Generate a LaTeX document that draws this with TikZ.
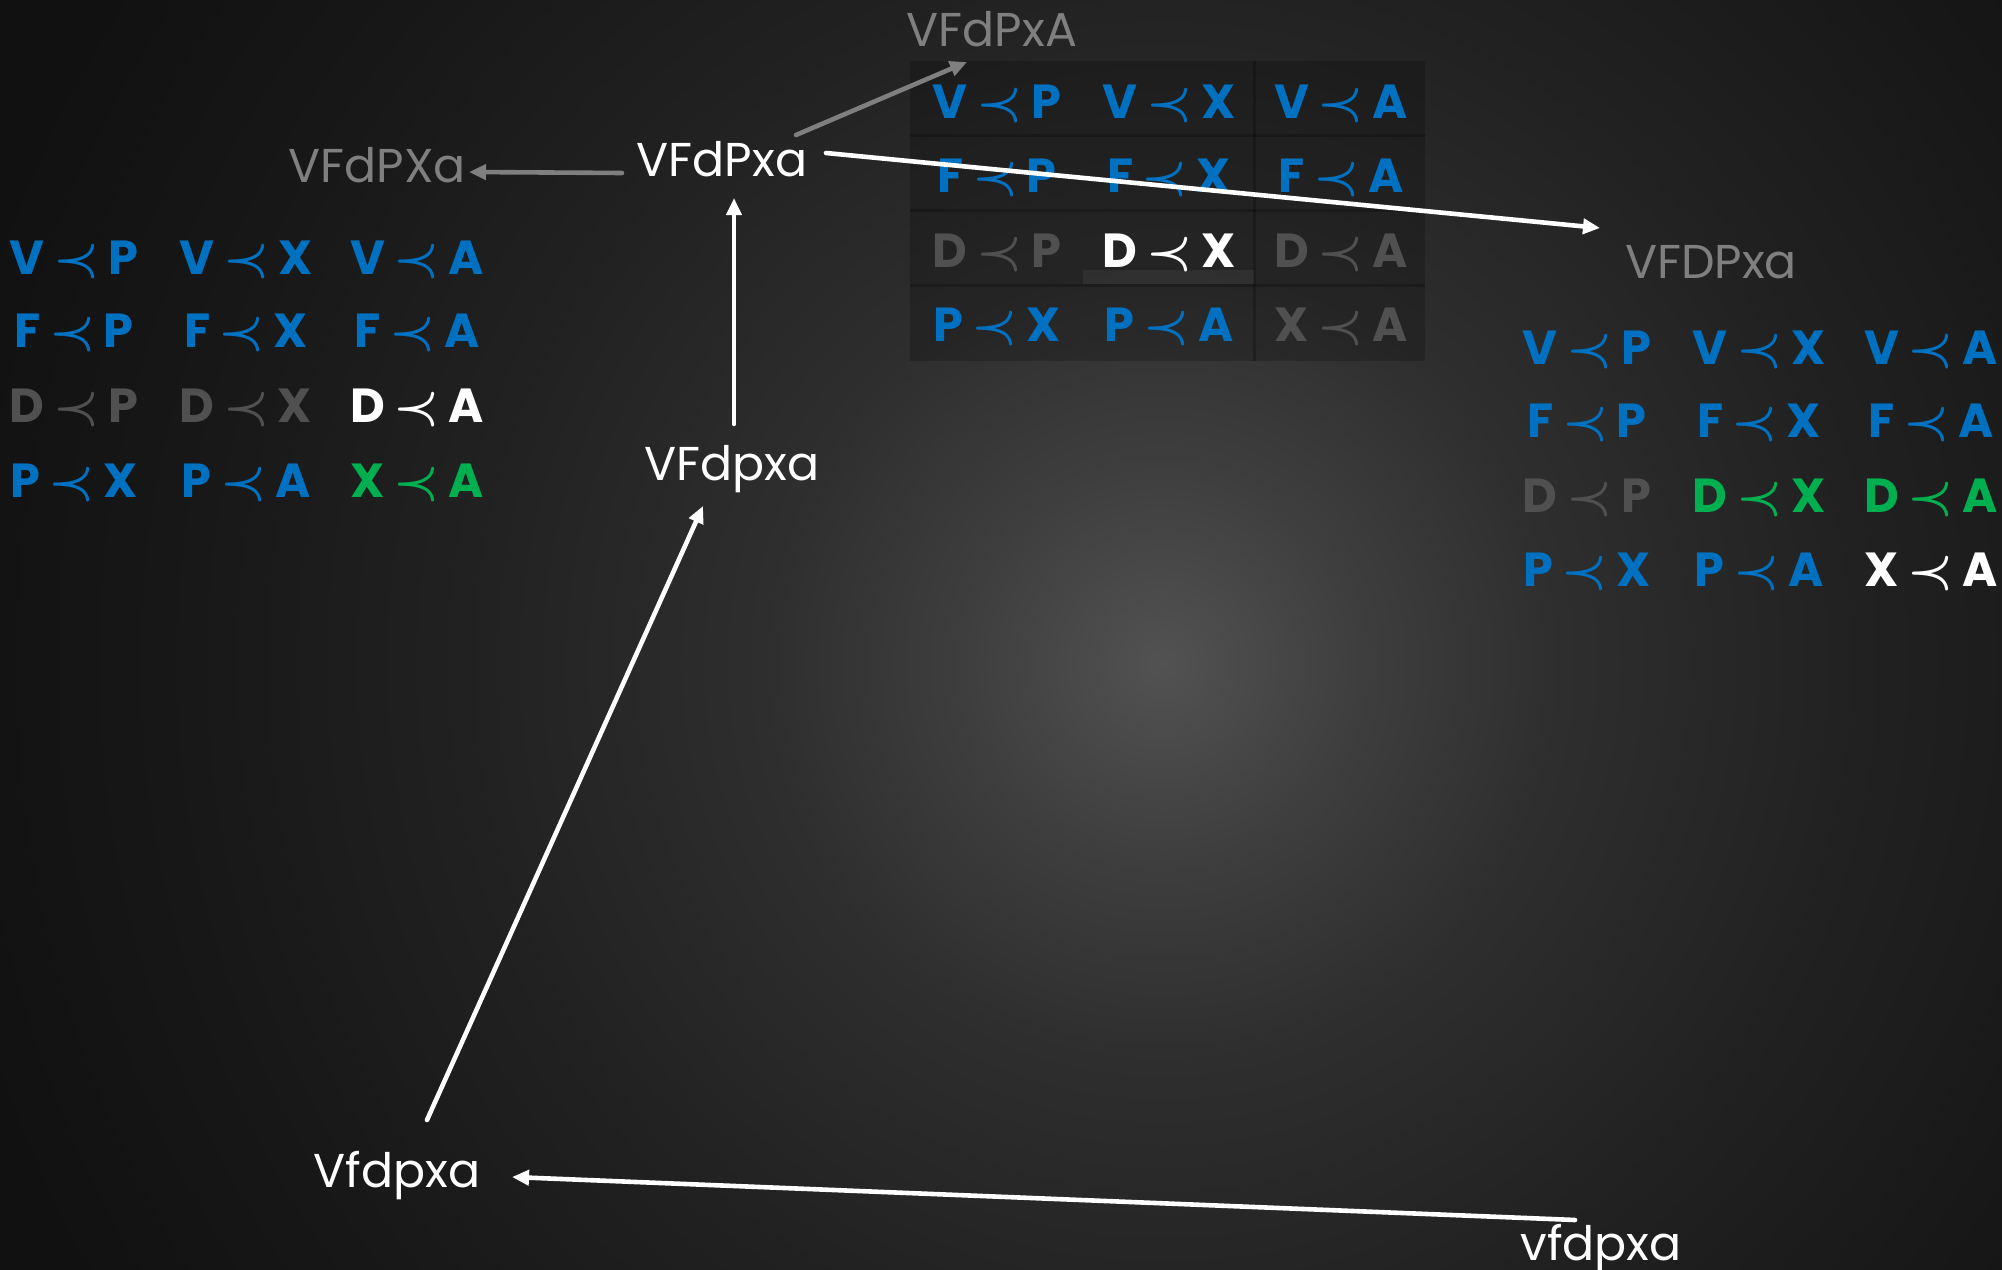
\documentclass[tikz,border=0pt]{standalone}
\usepackage{fontspec}
\usepackage{graphicx}
\setmainfont{Poppins}
\usetikzlibrary{arrows.meta}
\definecolor{bgA}{HTML}{525252}
\definecolor{bgB}{HTML}{3E3E3E}
\definecolor{bgC}{HTML}{2E2E2E}
\definecolor{bgD}{HTML}{212121}
\definecolor{bgE}{HTML}{171717}
\definecolor{bgF}{HTML}{111111}
\definecolor{cblue}{HTML}{0070C0}
\definecolor{cgreen}{HTML}{00B050}
\definecolor{cdim}{HTML}{505050}
\definecolor{cgray}{HTML}{7F7F7F}
\pgfdeclareradialshading{bgshade}{\pgfpoint{0bp}{0bp}}{color(0bp)=(bgA); color(4bp)=(bgB); color(8bp)=(bgC); color(14bp)=(bgD); color(20bp)=(bgE); color(25bp)=(bgF); color(50bp)=(bgF)}
\newcommand\rl[2]{#1\hspace{0.18em}\scalebox{1.02}{\boldmath$\prec$}\hspace{0.18em}#2}
\begin{document}
\begin{tikzpicture}[x=0.01cm,y=-0.01cm,
  rel/.style={anchor=base,inner sep=0pt,font=\fontsize{13.6}{16}\selectfont\bfseries},
  lab/.style={anchor=base,inner sep=0pt,font=\fontsize{13.5}{16}\selectfont},
  sep/.style={draw=black,opacity=0.22,line width=0.03cm},
  warr/.style={draw=white,line width=0.046cm,line cap=round,-{Triangle[length=0.17cm,width=0.15cm]}},
  garr/.style={draw=cgray,line width=0.046cm,line cap=round,-{Triangle[length=0.17cm,width=0.15cm]}}]
\useasboundingbox (0,0) rectangle (2002,1270);
\fill[bgF] (0,0) rectangle (2002,1270);
\begin{scope}
\clip (0,0) rectangle (2002,1270);
\shade[shading=bgshade] (1162,664) circle[radius=12.5cm];
\end{scope}
% middle table background
\fill[black,opacity=0.2] (910,61) rectangle (1425,361);
\draw[sep] (910,136) -- (1425,136);
\draw[sep] (910,211) -- (1425,211);
\draw[sep] (910,286) -- (1425,286);
\draw[sep] (1254,61) -- (1254,361);
\fill[white,opacity=0.05] (1083,270) rectangle (1254,284);
% labels
\node[lab,text=cgray] (nA) at (992,47) {VFdPxA};
\node[lab,text=cgray] (nL) at (377,183) {VFdPXa};
\node[lab,text=white] (nM) at (722,177) {VFdPxa};
\node[lab,text=white] (nV) at (732,481) {VFdpxa};
\node[lab,text=cgray] (nR) at (1711,279) {VFDPxa};
\node[lab,text=white] (nB) at (397,1187) {Vfdpxa};
\node[lab,text=white] (nb) at (1601,1260) {vfdpxa};
% left table
\node[rel,text=cblue] (l11) at (74,275) {\rl{V}{P}};
\node[rel,text=cblue] (l12) at (246,275) {\rl{V}{X}};
\node[rel,text=cblue] (l13) at (417,275) {\rl{V}{A}};
\node[rel,text=cblue] (l21) at (74,348) {\rl{F}{P}};
\node[rel,text=cblue] (l22) at (246,348) {\rl{F}{X}};
\node[rel,text=cblue] (l23) at (417,348) {\rl{F}{A}};
\node[rel,text=cdim] (l31) at (74,423) {\rl{D}{P}};
\node[rel,text=cdim] (l32) at (246,423) {\rl{D}{X}};
\node[rel,text=white] (l33) at (417,423) {\rl{D}{A}};
\node[rel,text=cblue] (l41) at (74,498) {\rl{P}{X}};
\node[rel,text=cblue] (l42) at (246,498) {\rl{P}{A}};
\node[rel,text=cgreen] (l43) at (417,498) {\rl{X}{A}};
% middle table
\node[rel,text=cblue] (m11) at (997,119) {\rl{V}{P}};
\node[rel,text=cblue] (m12) at (1169,119) {\rl{V}{X}};
\node[rel,text=cblue] (m13) at (1341,119) {\rl{V}{A}};
\node[rel,text=cblue] (m21) at (997,193) {\rl{F}{P}};
\node[rel,text=cblue] (m22) at (1169,193) {\rl{F}{X}};
\node[rel,text=cblue] (m23) at (1341,193) {\rl{F}{A}};
\node[rel,text=cdim] (m31) at (997,268) {\rl{D}{P}};
\node[rel,text=white] (m32) at (1169,268) {\rl{D}{X}};
\node[rel,text=cdim] (m33) at (1341,268) {\rl{D}{A}};
\node[rel,text=cblue] (m41) at (997,342) {\rl{P}{X}};
\node[rel,text=cblue] (m42) at (1169,342) {\rl{P}{A}};
\node[rel,text=cdim] (m43) at (1341,342) {\rl{X}{A}};
% right table
\node[rel,text=cblue] (r11) at (1587,365) {\rl{V}{P}};
\node[rel,text=cblue] (r12) at (1759,365) {\rl{V}{X}};
\node[rel,text=cblue] (r13) at (1931,365) {\rl{V}{A}};
\node[rel,text=cblue] (r21) at (1587,438) {\rl{F}{P}};
\node[rel,text=cblue] (r22) at (1759,438) {\rl{F}{X}};
\node[rel,text=cblue] (r23) at (1931,438) {\rl{F}{A}};
\node[rel,text=cdim] (r31) at (1587,513) {\rl{D}{P}};
\node[rel,text=cgreen] (r32) at (1759,513) {\rl{D}{X}};
\node[rel,text=cgreen] (r33) at (1931,513) {\rl{D}{A}};
\node[rel,text=cblue] (r41) at (1587,587) {\rl{P}{X}};
\node[rel,text=cblue] (r42) at (1759,587) {\rl{P}{A}};
\node[rel,text=white] (r43) at (1931,587) {\rl{X}{A}};
% arrows
\draw[garr] ([shift={(-100,-4)}]nM.base) -- ([shift={(92,-11)}]nL.base);
\draw[garr] ([shift={(74,-42)}]nM.base) -- ([shift={(-25,15)}]nA.base);
\draw[warr] ([shift={(104,-24)}]nM.base) -- ([shift={(-111,-51)}]nR.base);
\draw[warr] ([shift={(2,-57)}]nV.base) -- ([shift={(12,21)}]nM.base);
\draw[warr] ([shift={(30,-67)}]nB.base) -- ([shift={(-29,25)}]nV.base);
\draw[warr] ([shift={(-26,-40)}]nb.base) -- ([shift={(115,-10)}]nB.base);
\end{tikzpicture}
\end{document}
